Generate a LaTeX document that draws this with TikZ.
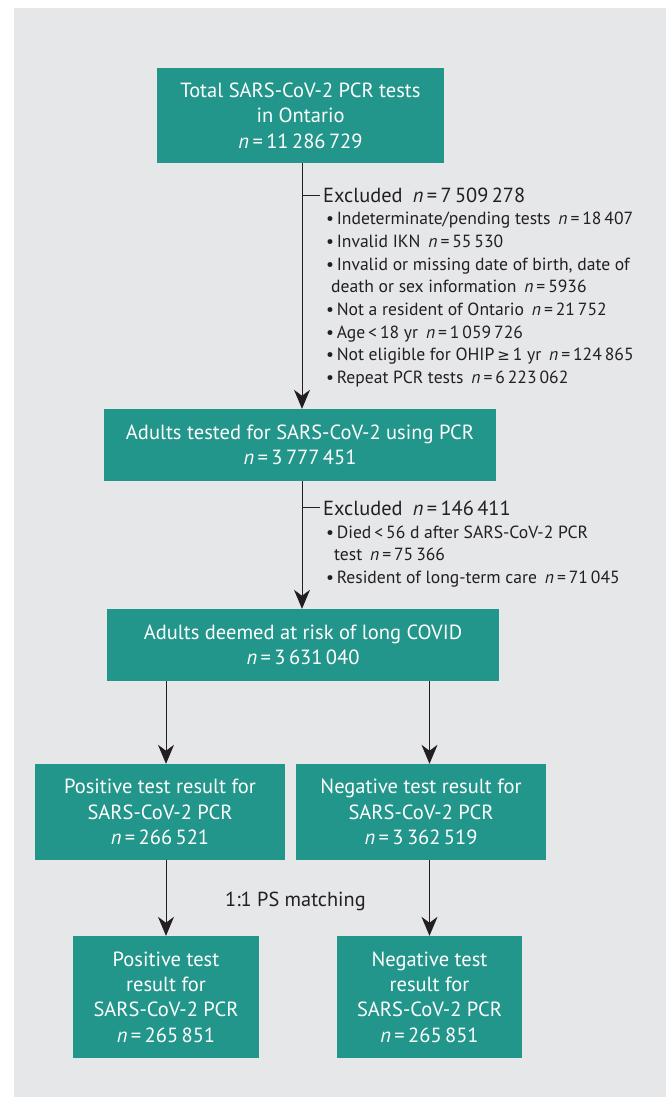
\documentclass[tikz,border=0pt]{standalone}
\usepackage{fontspec}
\setmainfont{PT Sans}
\newfontfamily\symfont{DejaVu Sans}
\usetikzlibrary{arrows.meta}
\definecolor{tealbox}{HTML}{23968C}
\definecolor{bggray}{HTML}{E6E7E8}
\definecolor{ink}{HTML}{231F20}
\newcommand{\nval}[1]{\textit{n}\,=\,#1}
\begin{document}
\begin{tikzpicture}[x=1pt,y=-1pt,
  box/.style={fill=tealbox, text=white, align=center, inner sep=0pt,
    font=\fontsize{20.5}{25.4}\selectfont},
  arr/.style={draw=ink, line width=0.9pt, -{Stealth[length=19pt,width=16pt,inset=6pt]}},
  tick/.style={draw=ink, line width=0.9pt},
  exhead/.style={anchor=base west, inner sep=0pt, text=ink, font=\fontsize{20.4}{22}\selectfont},
  exitem/.style={anchor=base west, inner sep=0pt, text=ink, font=\fontsize{17.6}{20}\selectfont},
  label/.style={anchor=base west, inner sep=0pt, text=ink, font=\fontsize{20.3}{22}\selectfont}]
\fill[bggray] (14,8) rectangle (666,1097);
\useasboundingbox (0,0) rectangle (669,1099);

% boxes
\node[box, minimum width=287pt, minimum height=95pt] (b1) at (300.5,115.5)
  {Total SARS-CoV-2 PCR tests\\in Ontario\\\nval{11\,286\,729}};
\node[box, minimum width=392pt, minimum height=72pt] (b2) at (300,445)
  {Adults tested for SARS-CoV-2 using PCR\\\nval{3\,777\,451}};
\node[box, minimum width=392pt, minimum height=72pt] (b3) at (303,645)
  {Adults deemed at risk of long COVID\\\nval{3\,631\,040}};
\node[box, minimum width=250pt, minimum height=96pt] (b4) at (160,812)
  {Positive test result for\\SARS-CoV-2 PCR\\\nval{266\,521}};
\node[box, minimum width=250pt, minimum height=96pt] (b5) at (421,812)
  {Negative test result for\\SARS-CoV-2 PCR\\\nval{3\,362\,519}};
\node[box, minimum width=186pt, minimum height=122pt] (b6) at (166,997)
  {Positive test\\result for\\SARS-CoV-2 PCR\\\nval{265\,851}};
\node[box, minimum width=185pt, minimum height=122pt] (b7) at (429.5,997)
  {Negative test\\result for\\SARS-CoV-2 PCR\\\nval{265\,851}};

% exclusion text 1
\node[exhead] (e1) at (323,203) {Excluded\hspace{0.5em}\nval{7\,509\,278}};
\node[exitem] (e1a) at (326,225) {\textbullet\hspace{0.15em}Indeterminate/pending tests\hspace{0.45em}\nval{18\,407}};
\node[exitem] (e1b) at (326,247.6) {\textbullet\hspace{0.15em}Invalid IKN\hspace{0.45em}\nval{55\,530}};
\node[exitem] (e1c) at (326,270.2) {\textbullet\hspace{0.15em}Invalid or missing date of birth, date of};
\node[exitem] (e1d) at (331,292.8) {death or sex information\hspace{0.45em}\nval{5936}};
\node[exitem] (e1e) at (326,315.4) {\textbullet\hspace{0.15em}Not a resident of Ontario\hspace{0.45em}\nval{21\,752}};
\node[exitem] (e1f) at (326,338) {\textbullet\hspace{0.15em}Age\,<\,18 yr\hspace{0.45em}\nval{1\,059\,726}};
\node[exitem] (e1g) at (326,360.6) {\textbullet\hspace{0.15em}Not eligible for OHIP\,{\symfont\fontsize{15}{20}\selectfont ≥}\,1 yr\hspace{0.45em}\nval{124\,865}};
\node[exitem] (e1h) at (326,383.2) {\textbullet\hspace{0.15em}Repeat PCR tests\hspace{0.45em}\nval{6\,223\,062}};

% exclusion text 2
\node[exhead] (e2) at (323,515) {Excluded\hspace{0.5em}\nval{146\,411}};
\node[exitem] (e2a) at (326,538) {\textbullet\hspace{0.15em}Died\,<\,56 d after SARS-CoV-2 PCR};
\node[exitem] (e2b) at (334,560.5) {test\hspace{0.45em}\nval{75\,366}};
\node[exitem] (e2c) at (326,583) {\textbullet\hspace{0.15em}Resident of long-term care\hspace{0.45em}\nval{71\,045}};

% matching label
\node[label] (pm) at (225,906) {1:1 PS matching};

% connectors
\coordinate (t1) at (302,0);
\draw[arr] (b1.south -| t1) -- (b2.north -| t1);
\draw[arr] (b2.south -| t1) -- (b3.north -| t1);
\draw[tick, shorten >=3pt] (e1.west -| t1) -- (e1.west);
\draw[tick, shorten >=3pt] (e2.west -| t1) -- (e2.west);
\draw[arr] (b3.south -| b6) -- (b4.north -| b6);
\draw[arr] (b3.south -| b7) -- (b5.north -| b7);
\draw[arr] (b4.south -| b6) -- (b6.north);
\draw[arr] (b5.south -| b7) -- (b7.north);
\end{tikzpicture}
\end{document}
